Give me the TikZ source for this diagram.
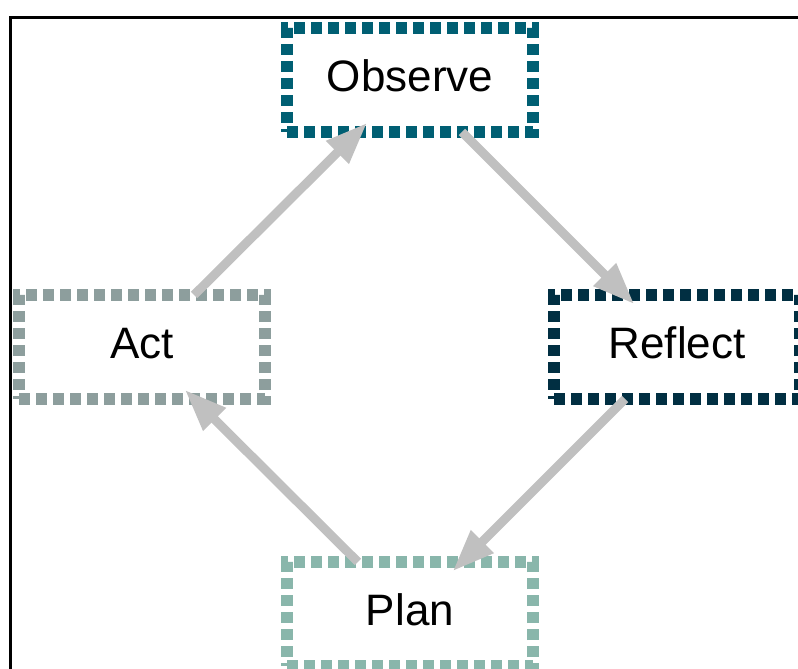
\documentclass[tikz,border=0pt]{standalone}
\usepackage{fontspec}
\setmainfont{Liberation Sans}
\usetikzlibrary{arrows.meta,positioning}
\definecolor{ink}{RGB}{0,0,0}
\definecolor{obscol}{RGB}{0,95,115}
\definecolor{reflcol}{RGB}{1,47,66}
\definecolor{plancol}{RGB}{137,182,171}
\definecolor{actcol}{RGB}{141,158,157}
\definecolor{arrowgray}{RGB}{192,192,192}

\begin{document}
\begin{tikzpicture}[
  x=1pt, y=-1pt,
  font=\fontsize{44}{50}\selectfont,
  box/.style={draw=#1, fill=white, line width=11.5pt, dash pattern=on 11pt off 6pt,
              minimum width=246pt, minimum height=104pt, inner sep=0pt, outer sep=0pt,
              text depth=8pt},
  flow/.style={-{Triangle[length=42pt,width=30pt]}, line width=9pt, draw=arrowgray,
               shorten >=-13pt},
]
\useasboundingbox (0,0) rectangle (798,669);
\clip (0,0) rectangle (798,669);
% ------------------------------------------------------------------ frame
\draw[ink, line width=3pt] (10.5,700) -- (10.5,18) -- (830,18);

% ------------------------------------------------------------------ nodes
\node[box=obscol]  (obs)  at (410,80)  {Observe};
\node[box=reflcol] (refl) at (677,347) {Reflect};
\node[box=plancol] (plan) at (410,614) {Plan};
\node[box=actcol]  (act)  at (142,347) {Act};

% ------------------------------------------------------------------ cycle
\draw[flow] (act)  -- (obs);
\draw[flow] (obs)  -- (refl);
\draw[flow] (refl) -- (plan);
\draw[flow] (plan) -- (act);
\end{tikzpicture}
\end{document}
